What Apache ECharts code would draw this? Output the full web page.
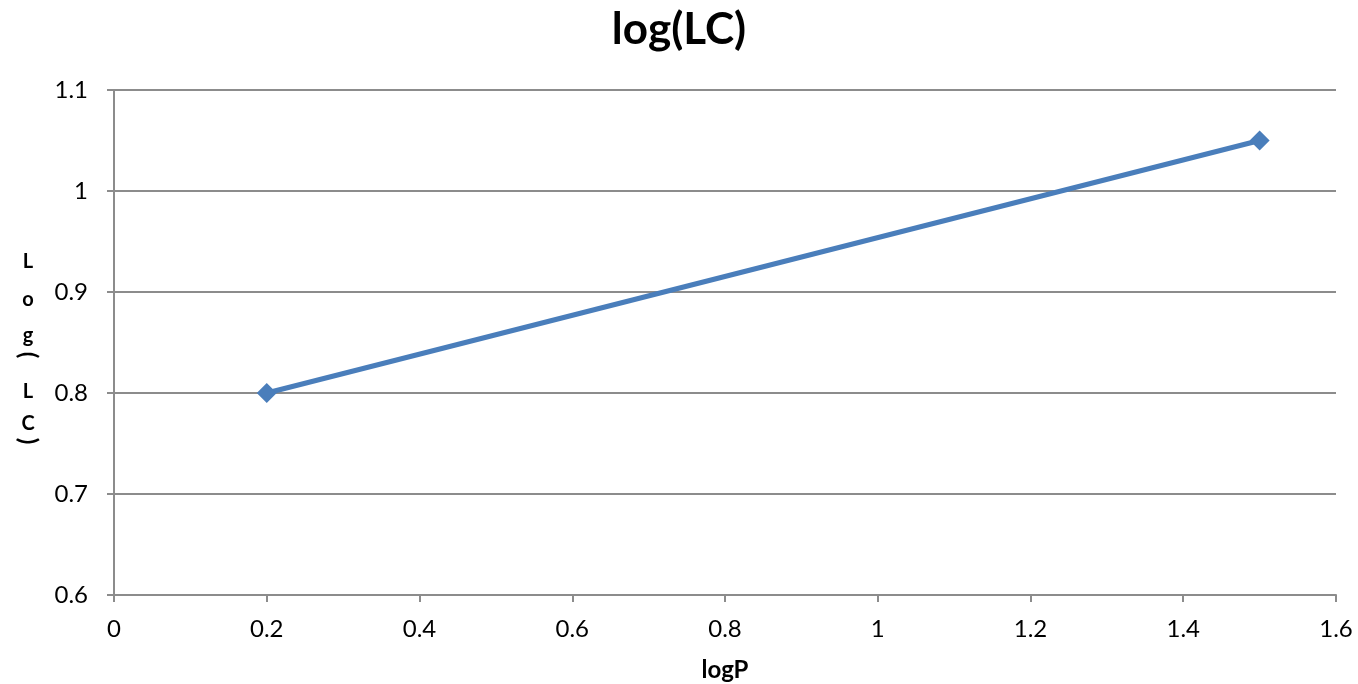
<!DOCTYPE html>
<html><head><meta charset="utf-8">
<script src="https://cdn.jsdelivr.net/npm/echarts@6/dist/echarts.min.js"></script>
<style>html,body{margin:0;padding:0;background:#fff}#c{width:1358px;height:684px}</style>
</head><body><div id="c"></div>
<script>
const titleText = 'log(LC)';
const xName = 'logP';
const xValues = [0.2, 1.5];
const yValues = [0.8, 1.05];
const FONT = 'Lato, "Open Sans", sans-serif';
const grey = '#8c8c8c';
const chart = echarts.init(document.getElementById('c'));
const labelLetters = [
  {t: 'L', y: 262}, {t: 'o', y: 300}, {t: 'g', y: 336},
  {t: '(', y: 355, paren: true}, {t: 'L', y: 392}, {t: 'C', y: 424},
  {t: ')', y: 441, paren: true}
];
const graphics = labelLetters.map(l => ({
  type: 'text', x: 28, y: l.y,
  rotation: l.paren ? -Math.PI / 2 : 0,
  style: {text: l.t, fontFamily: FONT, fontWeight: 'bold',
    fontSize: l.paren ? 24 : 20,
    fill: '#000', align: 'center', verticalAlign: 'middle'}
}));
chart.setOption({
  animation: false,
  title: {text: titleText, left: 'center', top: 3, textStyle: {fontFamily: FONT, fontWeight: 'bold', fontSize: 44, color: '#000'}},
  grid: {left: 114, right: 22, top: 90, bottom: 89, containLabel: false, outerBoundsMode: 'none'},
  graphic: graphics,
  xAxis: {
    type: 'value', min: 0, max: 1.6, interval: 0.2,
    name: xName, nameLocation: 'middle', nameGap: 63,
    nameTextStyle: {fontFamily: FONT, fontWeight: 'bold', fontSize: 24, color: '#000'},
    axisLine: {show: true, lineStyle: {color: grey, width: 2}},
    axisTick: {show: true, length: 7, inside: false, lineStyle: {color: grey, width: 2}},
    axisLabel: {fontFamily: FONT, fontSize: 24, color: '#000', margin: 22,
      formatter: v => String(Math.round(v*10)/10)},
    splitLine: {show: false}
  },
  yAxis: {
    type: 'value', min: 0.6, max: 1.1, interval: 0.1,
    axisLine: {show: true, lineStyle: {color: grey, width: 2}},
    axisTick: {show: true, length: 7, lineStyle: {color: grey, width: 2}},
    axisLabel: {fontFamily: FONT, fontSize: 24, color: '#000', margin: 26,
      formatter: v => String(Math.round(v*10)/10)},
    splitLine: {show: true, lineStyle: {color: grey, width: 2}}
  },
  series: [{
    type: 'line', data: xValues.map((x, i) => [x, yValues[i]]),
    symbol: 'diamond', symbolSize: 20,
    lineStyle: {color: '#4a7ebb', width: 5},
    itemStyle: {color: '#4a7ebb'}
  }]
});
</script></body></html>
